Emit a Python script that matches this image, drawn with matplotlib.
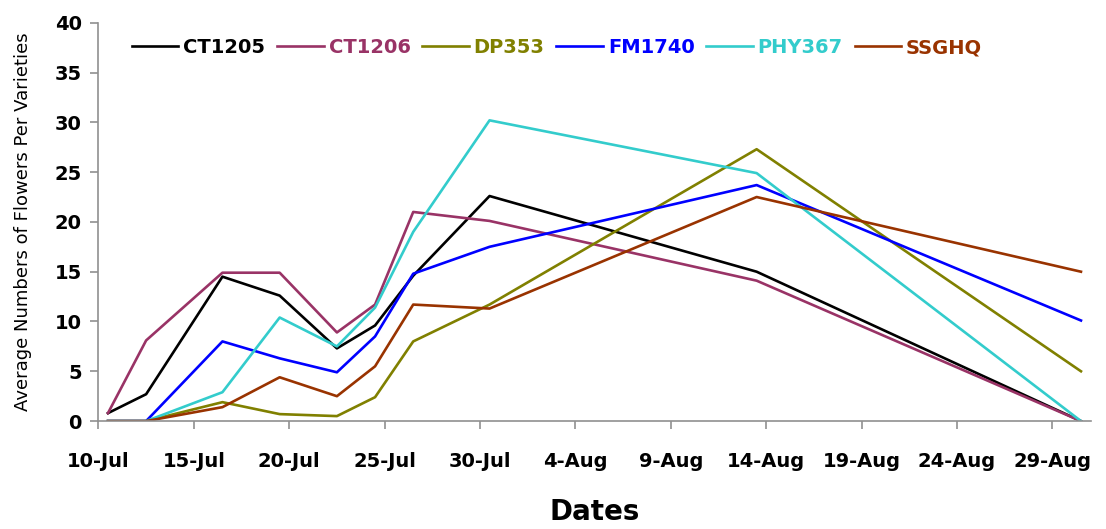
import matplotlib.pyplot as plt

# days after 10-Jul at which counts were taken
days = [0.5, 2.5, 6.5, 9.5, 12.5, 14.5, 16.5, 20.5, 34.5, 51.5]

ct1205 = [0.8, 2.7, 14.5, 12.6, 7.3, 9.6, 14.6, 22.6, 15.0, 0]
ct1206 = [0.8, 8.1, 14.9, 14.9, 8.9, 11.7, 21.0, 20.1, 14.1, 0]
dp353 = [0, 0, 1.9, 0.7, 0.5, 2.4, 8.0, 11.7, 27.3, 5.0]
fm1740 = [0, 0, 8.0, 6.3, 4.9, 8.5, 14.8, 17.5, 23.7, 10.1]
phy367 = [0, 0, 2.9, 10.4, 7.5, 11.4, 19.0, 30.2, 24.9, 0]
ssghq = [0, 0, 1.4, 4.4, 2.5, 5.5, 11.7, 11.3, 22.5, 15.0]

varieties = ['CT1205', 'CT1206', 'DP353', 'FM1740', 'PHY367', 'SSGHQ']
colors = ['#000000', '#993366', '#808000', '#0000FF', '#33CCCC', '#993300']

tick_days = [0, 5, 10, 15, 20, 25, 30, 35, 40, 45, 50]
tick_labels = ['10-Jul', '15-Jul', '20-Jul', '25-Jul', '30-Jul', '4-Aug',
               '9-Aug', '14-Aug', '19-Aug', '24-Aug', '29-Aug']

fig = plt.figure(figsize=(11.06, 5.29), dpi=100)
ax = fig.add_axes([0.089, 0.204, 0.897, 0.753])

series = [ct1205, ct1206, dp353, fm1740, phy367, ssghq]
for name, vals, c in zip(varieties, series, colors):
    ax.plot(days, vals, color=c, linewidth=1.9, label=name)

ax.set_xlim(0, 52)
ax.set_ylim(0, 40)
ax.set_yticks(range(0, 41, 5))
ax.set_xticks(tick_days)
ax.set_xticklabels(tick_labels)

for side in ['top', 'right']:
    ax.spines[side].set_visible(False)
for side in ['left', 'bottom']:
    ax.spines[side].set_color('#909090')
    ax.spines[side].set_linewidth(1.2)
ax.tick_params(axis='both', colors='#909090', length=6, width=1.2, direction='out')
ax.tick_params(axis='x', pad=16, labelcolor='black', labelsize=14)
ax.tick_params(axis='y', pad=6, labelcolor='black', labelsize=14)
for lbl in ax.get_xticklabels() + ax.get_yticklabels():
    lbl.set_fontweight('bold')

ax.set_xlabel('Dates', fontsize=20, fontweight='bold', labelpad=20)
ax.set_ylabel('Average Numbers of Flowers Per Varieties', fontsize=13, labelpad=16)

leg = ax.legend(loc='upper left', bbox_to_anchor=(0.016, 1.005), ncol=6, frameon=False,
                handlelength=2.4, columnspacing=0.6, handletextpad=0.25,
                prop={'size': 14, 'weight': 'bold'})
for txt, c in zip(leg.get_texts(), colors):
    txt.set_color(c)

fig.savefig('out.png', dpi=100)
